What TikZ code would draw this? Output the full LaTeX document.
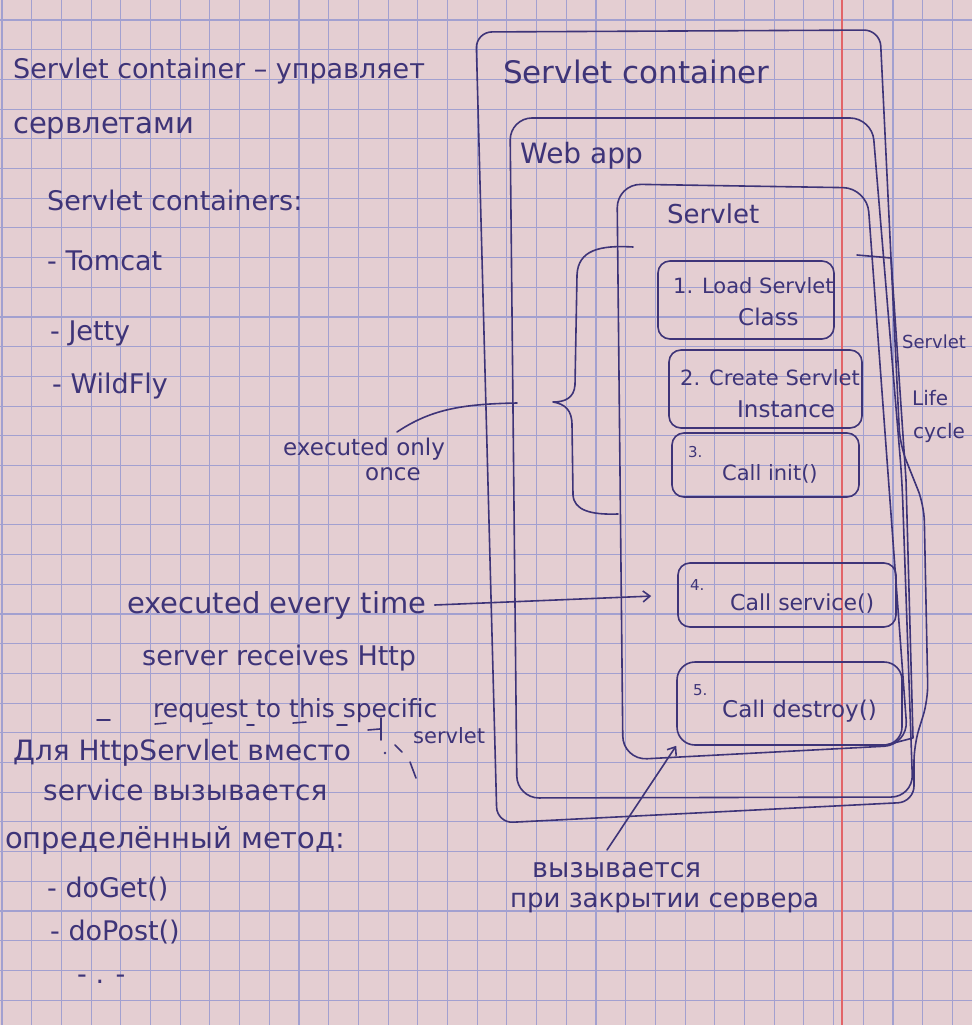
\documentclass[tikz,border=0pt]{standalone}
\usepackage{fontspec}
\setmainfont{DejaVu Sans}
\usetikzlibrary{calc,arrows.meta}

\definecolor{paper}{RGB}{228,206,210}
\definecolor{gridc}{RGB}{162,160,208}
\definecolor{ink}{RGB}{62,52,120}
\definecolor{margin}{RGB}{226,100,104}

\begin{document}
\begin{tikzpicture}[x=1pt,y=-1pt,
  hand/.style={font=\fontsize{#1}{#1}\selectfont, text=ink, inner sep=0pt, anchor=base west},
  pen/.style={draw=ink, line width=1.6pt, line cap=round, line join=round},
  stepbox/.style={pen, rounded corners=12pt, inner sep=0pt},
  tip/.style={-{Straight Barb[length=7pt,width=11pt,line width=1.6pt]}},
]
% squared paper
\fill[paper] (0,0) rectangle (972,1025);
\useasboundingbox (0,0) rectangle (972,1025);
\foreach \i in {0,...,33} \draw[gridc, line width=1.1pt] ({2+29.7*\i},0) -- ++(0,1025);
\foreach \j in {0,...,34} \draw[gridc, line width=1.1pt] (0,{20+29.7*\j}) -- ++(972,0);
\draw[margin, line width=1.2pt] (842,0) -- (842,1025);

% ---- left column notes ----
\node[hand=27] (sc1) at (13,78) {Servlet container – управляет};
\node[hand=29] (sc2) at (13,133) {сервлетами};
\node[hand=27] (scs) at (47,210) {Servlet containers:};
\node[hand=27] (tom) at (47,270) {- Tomcat};
\node[hand=27] (jet) at (50,340) {- Jetty};
\node[hand=27] (wil) at (52,393) {- WildFly};

\node[hand=23] (eo1) at (283,455) {executed only};
\node[hand=23] (eo2) at (365,480) {once};

\node[hand=29] (ev1) at (127,613) {executed every time};
\node[hand=27] (ev2) at (142,665) {server receives Http};
\node[hand=25] (ev3) at (153,717) {request to this specific};
\node[hand=21] (ev4) at (413,743) {servlet};

\node[hand=28] (hs1) at (13,760) {Для HttpServlet вместо};
\node[hand=28] (hs2) at (43,800) {service вызывается};
\node[hand=29] (hs3) at (5,848) {определённый метод:};
\node[hand=27] (hs4) at (47,897) {- doGet()};
\node[hand=27] (hs5) at (50,940) {- doPost()};
\node[hand=27] (hs6) at (77,983) {- . -};

% dashes and ticks around the request lines
\foreach \a/\b/\c/\d in {97/720/110/720, 155/724/166/723, 203/724/212/723, 247/725/254/725,
                         293/723/306/722, 337/725/347/725, 368/730/380/729, 381/718/381/740,
                         395/745/402/752, 410/762/416/778}
  \draw[pen] (\a,\b) -- (\c,\d);
\fill[ink] (385,753) circle (1.3pt);

% ---- nested containers ----
\draw[pen, rounded corners=16pt] (497,823) -- (476,32) -- (880,30) -- (900,445) -- (924,505)
  -- (928,700) -- (914,745) -- (914,802) -- cycle;
\node[hand=31] (lc) at (503,83) {Servlet container};

\draw[pen, rounded corners=22pt] (517,798) -- (510,118) -- (872,118) -- (902,480) -- (913,797) -- cycle;
\node[hand=28] (lw) at (520,163) {Web app};

\draw[pen, rounded corners=24pt] (623,760) -- (617,184) -- (867,188) -- (908,745) -- cycle;
\node[hand=26] (ls) at (667,223) {Servlet};

% ---- life cycle steps ----
\node[stepbox, minimum width=176pt, minimum height=78pt] (b1) at (746,300) {};
\node[stepbox, minimum width=193pt, minimum height=78pt] (b2) at (765.5,389) {};
\node[stepbox, minimum width=187pt, minimum height=64pt] (b3) at (765.5,465) {};
\node[stepbox, minimum width=218pt, minimum height=64pt] (b4) at (787,595) {};
\node[stepbox, rounded corners=18pt, minimum width=225pt, minimum height=83pt] (b5) at (789.5,703.5) {};

\node[hand=21] (t1a) at (673,293) {1. Load Servlet};
\node[hand=23] (t1b) at (738,325) {Class};
\node[hand=21] (t2a) at (680,385) {2. Create Servlet};
\node[hand=23] (t2b) at (737,417) {Instance};
\node[hand=15] (t3a) at (688,457) {3.};
\node[hand=21] (t3b) at (722,480) {Call init()};
\node[hand=15] (t4a) at (690,590) {4.};
\node[hand=22] (t4b) at (730,610) {Call service()};
\node[hand=15] (t5a) at (693,695) {5.};
\node[hand=23] (t5b) at (722,717) {Call destroy()};

% ---- life cycle bracket ----
\draw[pen] (857,255) -- (891,258) -- (906,480) -- (913,738) -- (886,745);
\node[hand=18] (lf1) at (902,348) {Servlet};
\node[hand=20] (lf2) at (912,405) {Life};
\node[hand=20] (lf3) at (913,438) {cycle};

% ---- brace over steps 1-3 ----
\draw[pen] (633,247) .. controls (600,245) and (578,250) .. (577,275) -- (575,385)
  .. controls (574,398) and (565,402) .. (553,402)
  .. controls (565,404) and (572,410) .. (572,425) -- (573,495)
  .. controls (574,510) and (590,515) .. (618,514);

% ---- pointers ----
\coordinate (ot) at (397,432);
\coordinate (oe) at (517,403);
\draw[pen] (ot) .. controls (430,410) and (460,404) .. (oe);

\draw[pen, tip, shorten >=26pt] ([xshift=8pt]ev1.east) -- (b4.west);

\node[hand=27] (zv1) at (532,877) {вызывается};
\node[hand=26] (zv2) at (510,907) {при закрытии сервера};
\coordinate (zt) at (607,850);
\draw[pen, tip] (zt) -- (b5.south west);
\end{tikzpicture}
\end{document}
